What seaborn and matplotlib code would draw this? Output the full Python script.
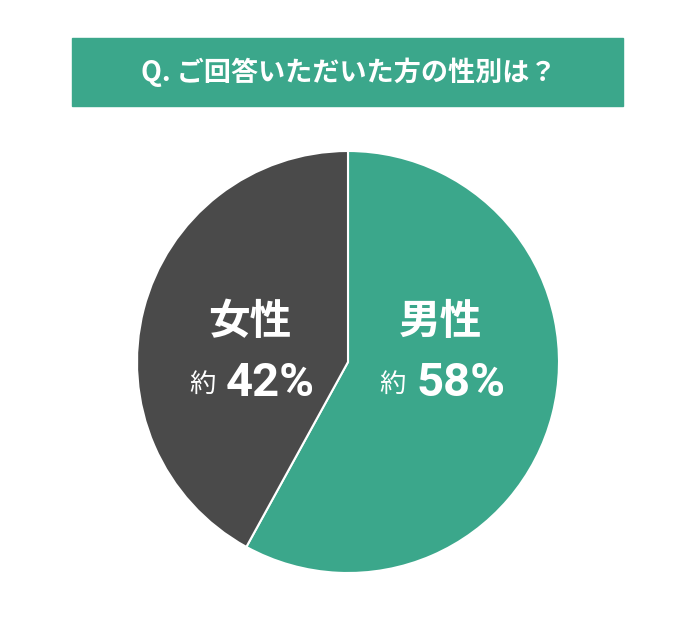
import matplotlib.pyplot as plt
import seaborn as sns
from matplotlib.patches import Rectangle

# data
labels = ["男性", "女性"]
shares = [58, 42]
pct_labels = ["58%", "42%"]
colors = ["#3ba78b", "#4a4a4a"]
title = "Q. ご回答いただいた方の性別は？"

sns.set_theme(style="white")
plt.rcParams['font.family'] = ['Noto Sans CJK JP', 'DejaVu Sans']

W, H = 696, 626
fig = plt.figure(figsize=(W / 100, H / 100), dpi=100)
fig.patch.set_facecolor("white")

# title banner
fig.patches.append(Rectangle((72 / W, 1 - 106 / H), (623 - 72) / W, 68 / H,
                             transform=fig.transFigure, color=colors[0], zorder=0))
fig.text(349 / W, 1 - 72 / H, title, color="white", fontsize=19.5, fontweight="bold",
         ha="center", va="center")

# pie
cx, cy, r = 348, 362, 211
ax = fig.add_axes([(cx - r) / W, (H - cy - r) / H, 2 * r / W, 2 * r / H])
ax.pie(shares, colors=colors, startangle=90, counterclock=False,
       wedgeprops=dict(edgecolor="white", linewidth=1.5))
ax.set_xlim(-1, 1)
ax.set_ylim(-1, 1)
ax.set_aspect("equal")
ax.axis("off")

# labels
label_x = [440, 250]
for lab, pct, x in zip(labels, pct_labels, label_x):
    fig.text(x / W, 1 - 322 / H, lab, color="white", fontsize=30, fontweight="bold",
             ha="center", va="center")
    fig.text((x - 34) / W, 1 - 384 / H, "約", color="white", fontsize=19,
             ha="right", va="center")
    fig.text((x - 24) / W, 1 - 383 / H, pct, color="white", fontsize=34,
             fontweight="bold", family=["Roboto", "DejaVu Sans"],
             ha="left", va="center")

fig.savefig("out.png", dpi=100)
